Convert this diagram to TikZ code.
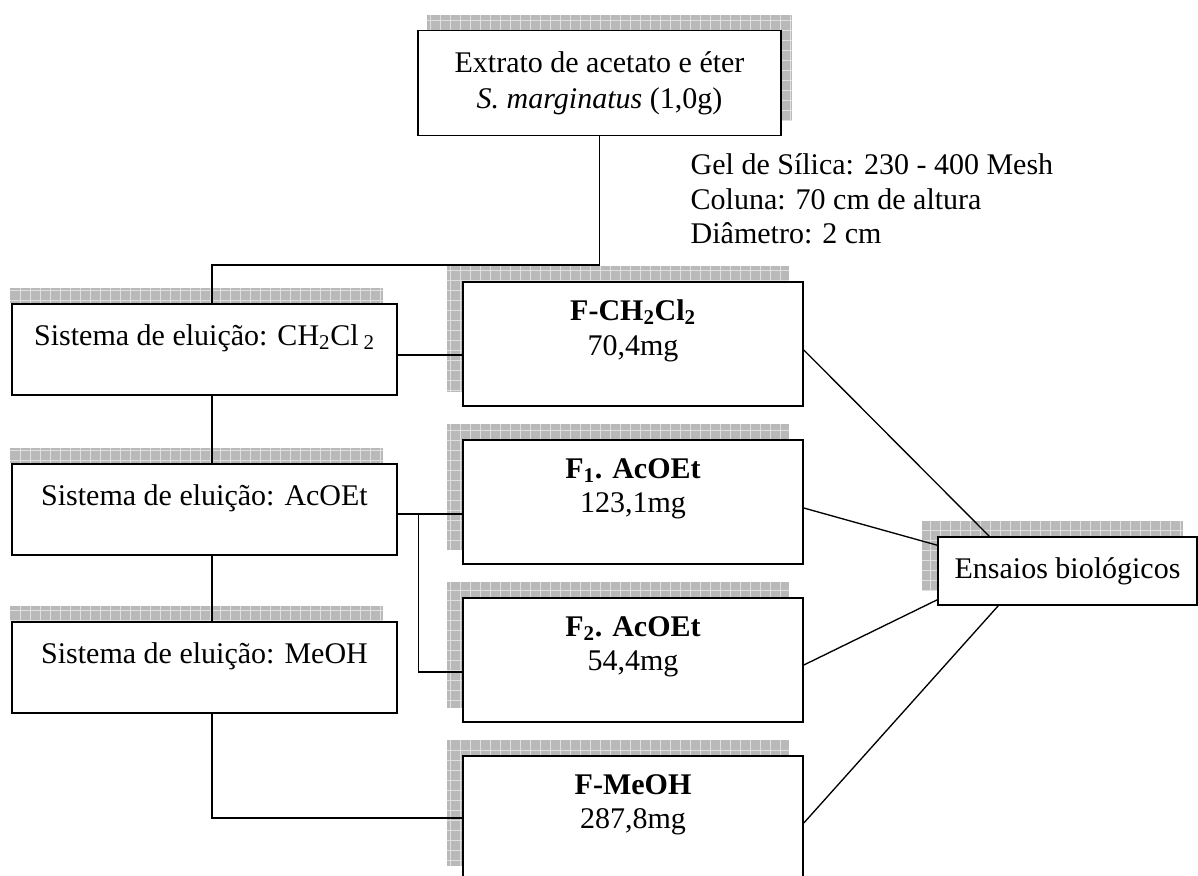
\documentclass[tikz,border=0pt]{standalone}
\usepackage{fontspec}
\setmainfont{Liberation Serif}
\usetikzlibrary{calc,backgrounds}

\begin{document}
\begin{tikzpicture}[x=0.75pt,y=0.75pt,yscale=-1,xscale=1,
  every node/.style={font=\fontsize{22.5}{26}\selectfont},
  box/.style={draw,fill=white,line width=1.2pt,align=center,inner sep=0pt},
  sysbox/.style={box,minimum width=288.75pt,minimum height=68.25pt},
  fracbox/.style={box,minimum width=255pt,minimum height=93pt},
  link/.style={line width=1pt},
  shade/.style={fill=gray!55},
  shadegrid/.style={gray!25,line width=0.5pt,step=10}]
\useasboundingbox (0,0) rectangle (1198,875);

% Extract box
\node[box,minimum width=272.25pt,minimum height=78.75pt] (ext) at (599.5,83) {Extrato de acetato e éter\\[1pt] \textit{S. marginatus} (1,0g)};
% Column conditions
\node[align=left,anchor=west] (gel) at (686,199) {Gel de Sílica: 230 - 400 Mesh\\ Coluna: 70 cm de altura\\ Diâmetro: 2 cm};

% Elution systems
\node[sysbox] (sCH) at (204.5,349.5) {Sistema de eluição: CH\textsubscript{2}Cl\,\textsubscript{2}\\[-12pt] \strut};
\node[sysbox] (sAc) at (204.5,509.5) {Sistema de eluição: AcOEt\\[-12pt] \strut};
\node[sysbox] (sMe) at (204.5,667.5) {Sistema de eluição: MeOH\\[-12pt] \strut};

% Fractions
\node[fracbox] (fCH) at (633,344) {\textbf{F-CH\textsubscript{2}Cl\textsubscript{2}}\\ 70,4mg\\[-9pt] \strut};
\node[fracbox] (fA1) at (633,502) {\textbf{F\textsubscript{1}. AcOEt}\\ 123,1mg\\[-9pt] \strut};
\node[fracbox] (fA2) at (633,660) {\textbf{F\textsubscript{2}. AcOEt}\\ 54,4mg\\[-9pt] \strut};
\node[fracbox] (fMe) at (633,818) {\textbf{F-MeOH}\\ 287,8mg\\[-9pt] \strut};

% Bioassays
\node[box,minimum width=194.25pt,minimum height=51pt] (ens) at (1067.5,571) {Ensaios biológicos};

% Shadows
\begin{scope}[on background layer]
\fill[shade] ($(ext.north west)+(10,-15)$) rectangle ($(ext.south east)+(10,-15)$);
\draw[shadegrid] ($(ext.north west)+(10,-15)$) grid ($(ext.south east)+(10,-15)$);
\foreach \n in {sCH,sAc,sMe}{
  \fill[shade] ($(\n.north west)+(-1,-15)$) rectangle ($(\n.north east)+(-15,0)$);
  \draw[shadegrid] ($(\n.north west)+(-1,-15)$) grid ($(\n.north east)+(-15,0)$);
}
\foreach \n in {fCH,fA1,fA2,fMe,ens}{
  \fill[shade] ($(\n.north west)+(-15,-15)$) rectangle ($(\n.south east)+(-15,-15)$);
  \draw[shadegrid] ($(\n.north west)+(-15,-15)$) grid ($(\n.south east)+(-15,-15)$);
}
\end{scope}

% Main line
\coordinate (spine) at (212,265);
\draw[link] (ext.south) |- (spine) -- (spine |- sCH.north);
\draw[link] (spine |- sCH.south) -- (spine |- sAc.north);
\draw[link] (spine |- sAc.south) -- (spine |- sMe.north);
\draw[link] (spine |- sMe.south) |- (fMe.west);

% Systems to fractions
\coordinate (jCH) at ($(sCH.east)+(0,5.5)$);
\draw[link] (jCH) -- (jCH -| fCH.west);
\coordinate (jAc) at ($(sAc.east)+(0,4.5)$);
\draw[link] (jAc) -- (jAc -| fA1.west);
\coordinate (jbr) at ($(jAc)+(21,0)$);
\draw[link] (jbr) |- ($(fA2.west)+(0,12)$);

% Fractions to bioassays
\draw[link] ($(fCH.east)+(0,6)$) -- ($(ens.north west)+(52,0)$);
\draw[link] ($(fA1.east)+(0,6)$) -- ($(ens.north west)+(0,9)$);
\draw[link] ($(fA2.east)+(0,5)$) -- ($(ens.south west)+(0,-6)$);
\draw[link] ($(fMe.east)+(0,5)$) -- ($(ens.south west)+(61,0)$);

\end{tikzpicture}
\end{document}
